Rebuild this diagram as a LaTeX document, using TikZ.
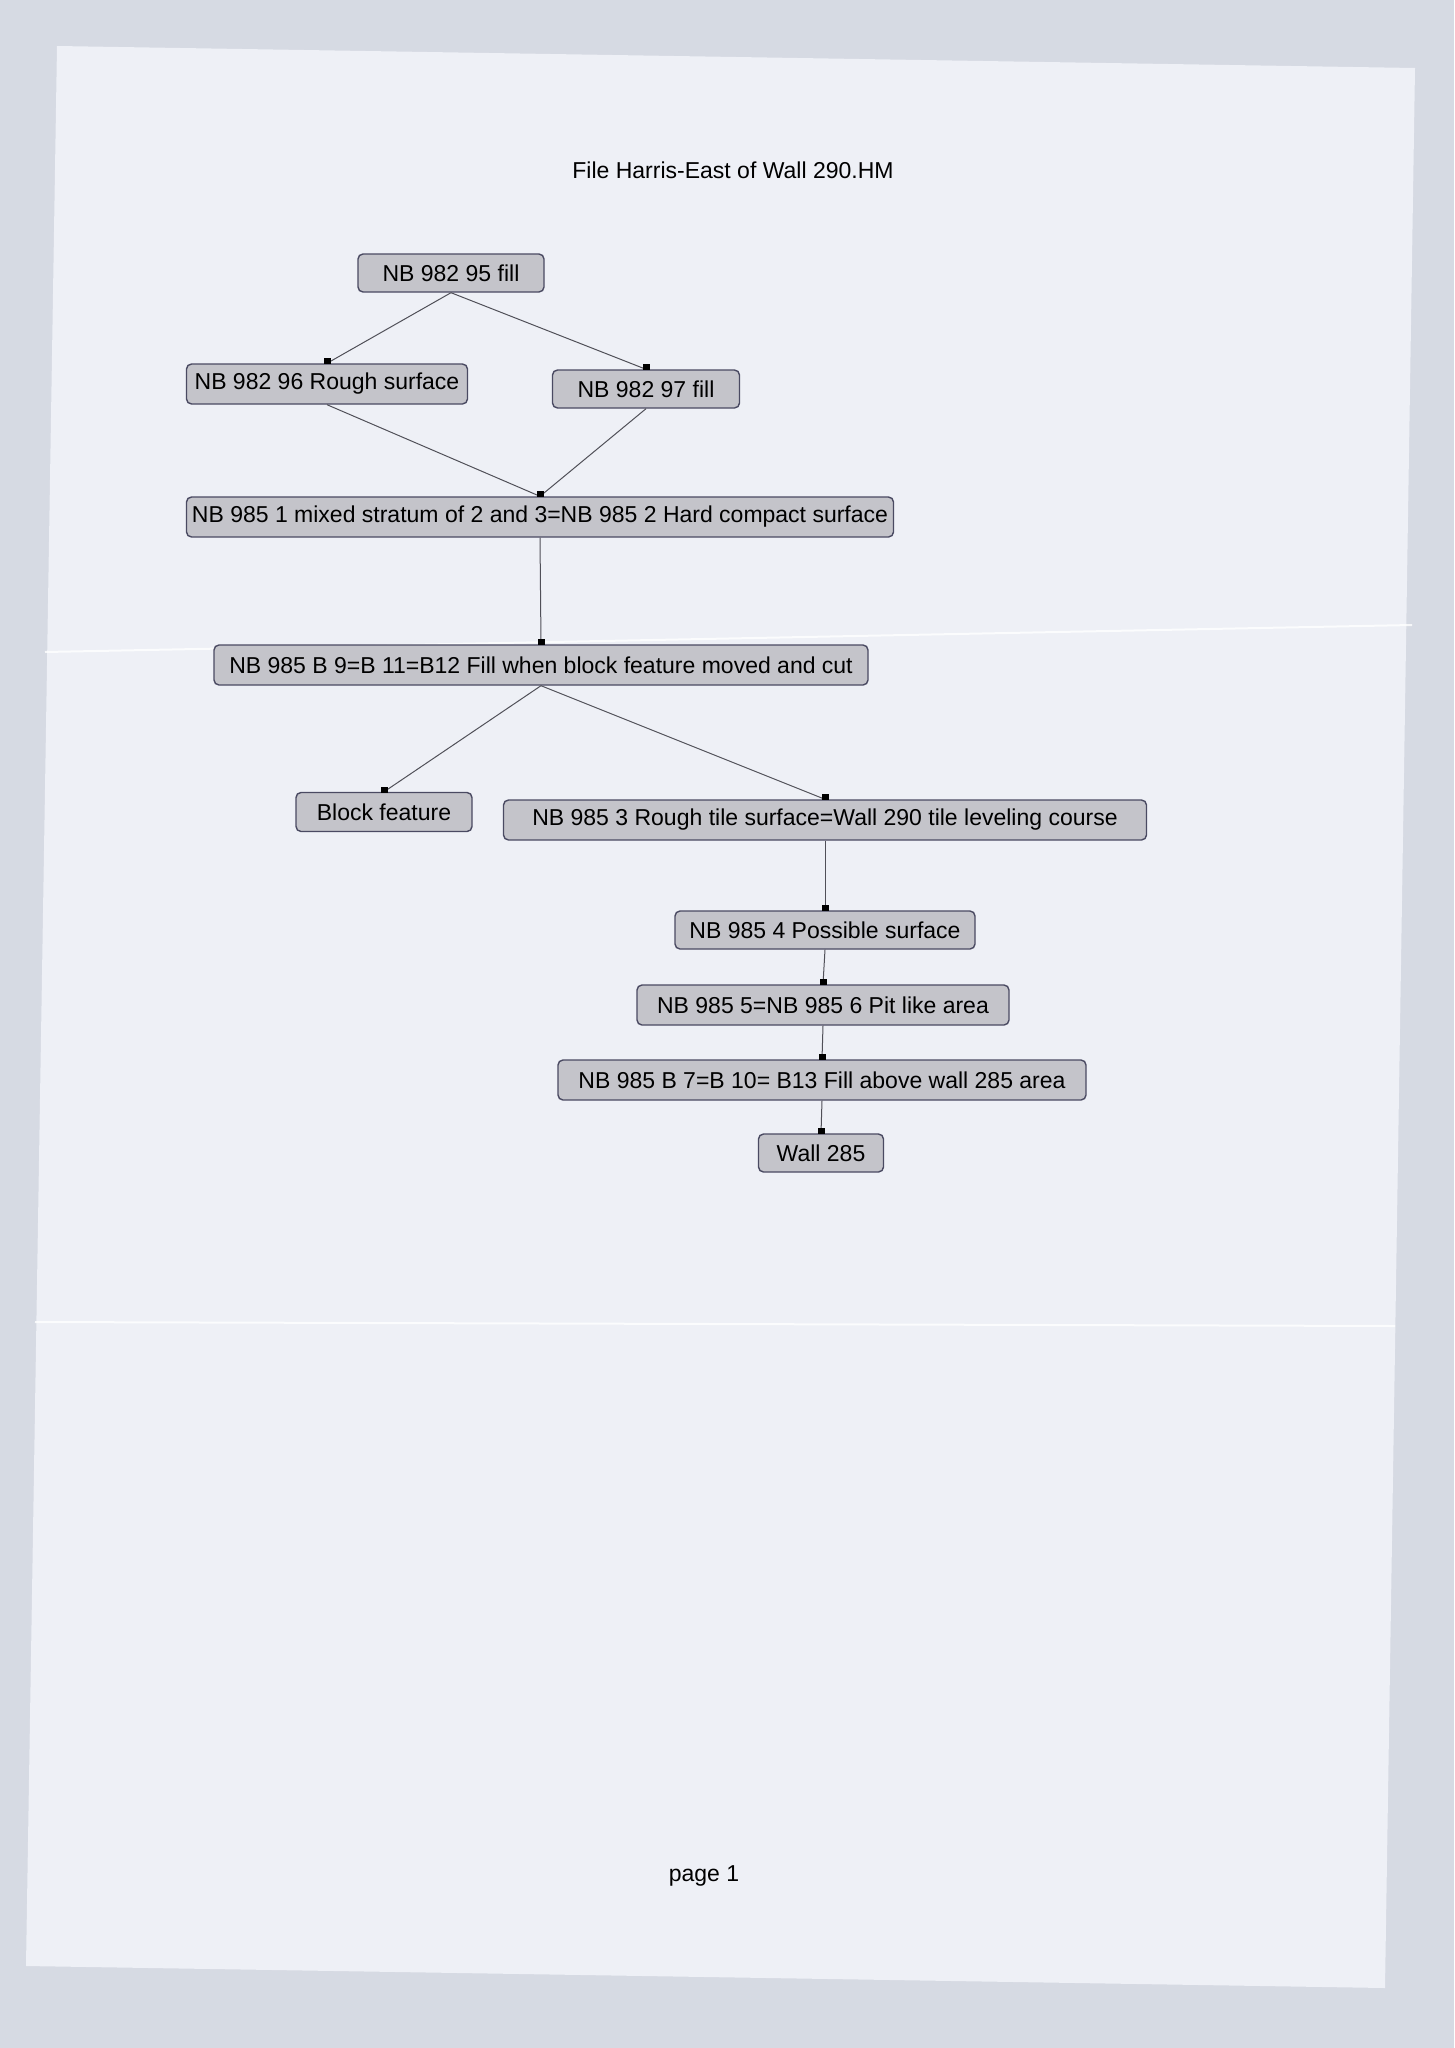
\documentclass[tikz,border=0pt]{standalone}
\usepackage{fontspec}
\setmainfont{Liberation Sans}
\definecolor{outer}{HTML}{D6DAE3}
\definecolor{paper}{HTML}{EEF0F6}
\definecolor{boxfill}{HTML}{C4C4CA}
\definecolor{boxline}{HTML}{4A4A62}
\definecolor{edgecol}{HTML}{505058}
\tikzset{
  box/.style={draw=boxline, fill=boxfill, rounded corners=5pt, line width=1.4pt,
    minimum height=38pt, inner sep=0pt, text=black, font=\fontsize{23}{27}\selectfont},
  edge/.style={draw=edgecol, line width=1pt},
  label/.style={text=black, font=\fontsize{23}{27}\selectfont, inner sep=0pt},
  fold/.style={draw=white, line width=2pt, opacity=0.8}
}
\newcommand\mk[1]{\fill[black] ([shift={(-3.5pt,-1pt)}]#1.north) rectangle ([shift={(3.5pt,5pt)}]#1.north);}
\begin{document}
\begin{tikzpicture}[x=1pt,y=-1pt]
\useasboundingbox (0,0) rectangle (1454,2048);
\fill[outer] (0,0) rectangle (1454,2048);
\fill[paper] (57,46) -- (1415,68) -- (1385,1988) -- (26,1966) -- cycle;
\draw[fold] (45,652) -- (1412,625);
\draw[fold] (35,1322) -- (1395,1326);

\node[label] (title) at (733,170) {File Harris-East of Wall 290.HM};
\node[label] (pg) at (704,1876) {page 1};

\node[box, minimum width=186pt] (n1) at (451,273) {NB 982 95 fill};
\node[box, minimum width=281pt, minimum height=40pt] (n2) at (327,384) {NB 982 96 Rough surface};
\node[box, minimum width=187pt] (n3) at (646,389) {NB 982 97 fill};
\node[box, minimum width=707pt, minimum height=40pt] (n4) at (540,517) {NB 985 1 mixed stratum of 2 and 3=NB 985 2 Hard compact surface};
\node[box, minimum width=654pt, minimum height=40pt] (n5) at (541,665) {NB 985 B 9=B 11=B12 Fill when block feature moved and cut};
\node[box, minimum width=176pt, minimum height=39pt] (n6) at (384,812) {Block feature};
\node[box, minimum width=643pt, minimum height=40pt] (n7) at (825,820) {NB 985 3 Rough tile surface=Wall 290 tile leveling course};
\node[box, minimum width=300pt] (n8) at (825,930) {NB 985 4 Possible surface};
\node[box, minimum width=372pt, minimum height=40pt] (n9) at (823,1005) {NB 985 5=NB 985 6 Pit like area};
\node[box, minimum width=528pt, minimum height=40pt] (n10) at (822,1080) {NB 985 B 7=B 10= B13 Fill above wall 285 area};
\node[box, minimum width=125pt] (n11) at (821,1153) {Wall 285};

\draw[edge] (n1.south) -- (n2.north);
\draw[edge] (n1.south) -- (n3.north);
\draw[edge] (n2.south) -- (n4.north);
\draw[edge] (n3.south) -- (n4.north);
\draw[edge] (n4.south) -- (n5.north);
\draw[edge] (n5.south) -- (n6.north);
\draw[edge] (n5.south) -- (n7.north);
\draw[edge] (n7.south) -- (n8.north);
\draw[edge] (n8.south) -- (n9.north);
\draw[edge] (n9.south) -- (n10.north);
\draw[edge] (n10.south) -- (n11.north);

\mk{n2}\mk{n3}\mk{n4}\mk{n5}\mk{n6}\mk{n7}\mk{n8}\mk{n9}\mk{n10}\mk{n11}
\end{tikzpicture}
\end{document}
